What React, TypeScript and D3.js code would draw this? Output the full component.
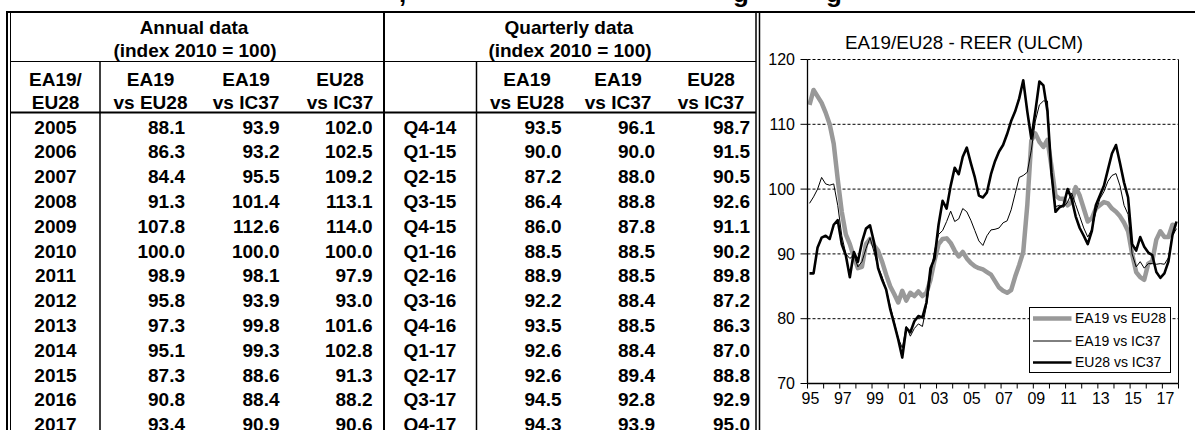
import React from "react";
import * as d3 from "d3";

// ---- table data (index 2010 = 100) ----
const annualYears = ["2005", "2006", "2007", "2008", "2009", "2010", "2011", "2012", "2013", "2014", "2015", "2016", "2017"];
const annualEa19VsEu28 = [88.1, 86.3, 84.4, 91.3, 107.8, 100.0, 98.9, 95.8, 97.3, 95.1, 87.3, 90.8, 93.4];
const annualEa19VsIc37 = [93.9, 93.2, 95.5, 101.4, 112.6, 100.0, 98.1, 93.9, 99.8, 99.3, 88.6, 88.4, 90.9];
const annualEu28VsIc37 = [102.0, 102.5, 109.2, 113.1, 114.0, 100.0, 97.9, 93.0, 101.6, 102.8, 91.3, 88.2, 90.6];

const quarterLabels = ["Q4-14", "Q1-15", "Q2-15", "Q3-15", "Q4-15", "Q1-16", "Q2-16", "Q3-16", "Q4-16", "Q1-17", "Q2-17", "Q3-17", "Q4-17"];
const quarterEa19VsEu28 = [93.5, 90.0, 87.2, 86.4, 86.0, 88.5, 88.9, 92.2, 93.5, 92.6, 92.6, 94.5, 94.3];
const quarterEa19VsIc37 = [96.1, 90.0, 88.0, 88.8, 87.8, 88.5, 88.5, 88.4, 88.5, 88.4, 89.4, 92.8, 93.9];
const quarterEu28VsIc37 = [98.7, 91.5, 90.5, 92.6, 91.1, 90.2, 89.8, 87.2, 86.3, 87.0, 88.8, 92.9, 95.0];

// ---- chart: quarterly REER 1995Q1 .. 2014Q3, then the table quarters ----
const histEa19VsEu28 = [
  113.0, 115.3, 114.3, 113.3, 111.8, 110.0, 107.0, 101.5, 96.5, 93.0,
  91.5, 89.5, 87.8, 88.0, 91.5, 92.3, 91.3, 90.5, 88.8, 86.8,
  85.0, 83.8, 82.5, 84.3, 82.8, 84.0, 83.5, 84.2, 83.5, 84.0,
  86.0, 89.0, 91.5, 92.3, 92.4, 91.7, 90.5, 89.6, 90.3, 89.3,
  88.6, 88.1, 87.8, 87.6, 87.2, 86.8, 85.8, 84.8, 84.3, 84.0,
  84.4, 86.5, 88.3, 90.3, 97.5, 107.5, 108.6, 107.3, 106.5, 107.6,
  103.5, 99.0, 98.5, 98.5, 97.5, 98.0, 100.3, 99.0, 97.0, 95.0,
  95.5, 97.0, 97.5, 98.0, 97.8, 97.0, 96.5, 95.8, 94.8,
];
const histEa19VsIc37 = [
  97.8, 98.8, 100.0, 101.8, 100.8, 100.6, 100.8, 97.5, 92.8, 90.0,
  89.3, 89.8, 88.0, 88.8, 90.8, 92.5, 90.3, 88.0, 86.5, 84.5,
  82.0, 79.5, 77.0, 75.5, 78.8, 77.3, 78.5, 79.2, 78.8, 82.0,
  86.4, 90.5, 93.0, 93.6, 95.0, 96.6, 95.0, 95.4, 97.0, 96.5,
  95.2, 93.6, 92.0, 91.3, 92.8, 93.7, 93.8, 94.0, 94.8, 95.1,
  96.8, 99.3, 101.8, 102.1, 102.6, 106.0, 110.5, 113.0, 113.6, 113.6,
  102.0, 97.3, 97.5, 97.2, 98.0, 99.4, 97.6, 95.8, 94.0, 92.6,
  93.8, 96.5, 98.5, 99.6, 101.2, 102.1, 102.4, 100.5, 97.5,
];
const histEu28VsIc37 = [
  87.0, 87.0, 91.0, 92.5, 92.8, 92.3, 94.5, 95.2, 91.5, 89.8,
  86.4, 90.3, 88.8, 91.8, 93.9, 94.4, 91.8, 87.8, 86.0, 84.5,
  81.5, 79.2, 76.8, 74.0, 78.6, 77.9, 79.6, 80.4, 80.2, 82.5,
  87.8, 89.3, 94.5, 98.2, 97.0, 100.5, 103.3, 102.3, 105.0, 106.4,
  104.0, 101.8, 99.0, 98.7, 99.5, 102.3, 104.3, 105.8, 106.8, 108.5,
  110.5, 112.0, 114.0, 116.8, 112.0, 107.8, 112.0, 116.6, 116.0, 112.0,
  102.5, 96.5, 97.2, 97.5, 100.0, 98.5, 95.8, 94.0, 92.8, 91.5,
  93.5, 97.5, 99.0, 100.5, 103.0, 105.5, 106.8, 104.0, 101.0,
];

const reerEa19VsEu28 = [...histEa19VsEu28, ...quarterEa19VsEu28];
const reerEa19VsIc37 = [...histEa19VsIc37, ...quarterEa19VsIc37];
const reerEu28VsIc37 = [...histEu28VsIc37, ...quarterEu28VsIc37];

const yearTicks = d3.range(1995, 2018);
const yearLabels = ["95", "97", "99", "01", "03", "05", "07", "09", "11", "13", "15", "17"];
const yTicks = [70, 80, 90, 100, 110, 120];
const legendNames = ["EA19 vs EU28", "EA19 vs IC37", "EU28 vs IC37"];

const FONT = "'Liberation Sans', Arial, Helvetica, sans-serif";

function Table() {
  const rowY = (k: number) => 133.5 + k * 24.8;
  const bold = { fontFamily: FONT, fontWeight: 700, fontSize: 19 };
  const annualCols = [
    { x: 185, vals: annualEa19VsEu28 },
    { x: 279.5, vals: annualEa19VsIc37 },
    { x: 372.5, vals: annualEu28VsIc37 },
  ];
  const quarterCols = [
    { x: 561.5, vals: quarterEa19VsEu28 },
    { x: 655, vals: quarterEa19VsIc37 },
    { x: 750, vals: quarterEu28VsIc37 },
  ];
  const heads = [
    { x: 55.5, a: "EA19/", b: "EU28" },
    { x: 150.5, a: "EA19", b: "vs EU28" },
    { x: 246, a: "EA19", b: "vs IC37" },
    { x: 340, a: "EU28", b: "vs IC37" },
    { x: 527, a: "EA19", b: "vs EU28" },
    { x: 618, a: "EA19", b: "vs IC37" },
    { x: 711, a: "EU28", b: "vs IC37" },
  ];
  return (
    <g>
      {/* borders */}
      <line x1={6} x2={1195} y1={12} y2={12} stroke="#000" strokeWidth={2} />
      <line x1={7} x2={7} y1={12} y2={430} stroke="#000" strokeWidth={2} />
      <line x1={10.5} x2={10.5} y1={12} y2={430} stroke="#000" strokeWidth={1} />
      <line x1={756} x2={756} y1={12} y2={430} stroke="#000" strokeWidth={1.5} />
      <line x1={759.5} x2={759.5} y1={12} y2={430} stroke="#000" strokeWidth={1.5} />
      <line x1={384} x2={384} y1={12} y2={430} stroke="#000" strokeWidth={2} />
      <line x1={10.5} x2={756} y1={61.5} y2={61.5} stroke="#000" strokeWidth={1} />
      <line x1={10.5} x2={756} y1={112.5} y2={112.5} stroke="#000" strokeWidth={2} />
      <line x1={100} x2={100} y1={61.5} y2={430} stroke="#000" strokeWidth={1.5} />
      <line x1={476.5} x2={476.5} y1={61.5} y2={430} stroke="#000" strokeWidth={1.5} />

      <text x={194} y={34} textAnchor="middle" style={bold}>Annual data</text>
      <text x={195} y={57} textAnchor="middle" style={bold}>(index 2010 = 100)</text>
      <text x={569} y={34} textAnchor="middle" style={bold}>Quarterly data</text>
      <text x={570} y={57} textAnchor="middle" style={bold}>(index 2010 = 100)</text>

      {heads.map((h, i) => (
        <g key={i}>
          <text x={h.x} y={86} textAnchor="middle" style={bold}>{h.a}</text>
          <text x={h.x} y={109} textAnchor="middle" style={bold}>{h.b}</text>
        </g>
      ))}

      {annualYears.map((yr, k) => (
        <g key={yr}>
          <text x={55.5} y={rowY(k)} textAnchor="middle" style={bold}>{yr}</text>
          {annualCols.map((c, j) => (
            <text key={j} x={c.x} y={rowY(k)} textAnchor="end" style={bold}>{c.vals[k].toFixed(1)}</text>
          ))}
        </g>
      ))}
      {quarterLabels.map((q, k) => (
        <g key={q}>
          <text x={430} y={rowY(k)} textAnchor="middle" style={bold}>{q}</text>
          {quarterCols.map((c, j) => (
            <text key={j} x={c.x} y={rowY(k)} textAnchor="end" style={bold}>{c.vals[k].toFixed(1)}</text>
          ))}
        </g>
      ))}
    </g>
  );
}

function Chart() {
  const n = reerEa19VsEu28.length;
  const x = d3.scaleLinear().domain([0, n]).range([807.5, 1178.5]);
  const y = d3.scaleLinear().domain([70, 120]).range([383.5, 59.5]);
  const line = d3.line<number>().x((_, i) => x(i + 0.5)).y((d) => y(d));
  const series = [
    { data: reerEa19VsEu28, color: "#999999", width: 4.5 },
    { data: reerEa19VsIc37, color: "#000", width: 1 },
    { data: reerEu28VsIc37, color: "#000", width: 2.6 },
  ];
  const [x0, x1] = x.range();
  const [yb, yt] = y.range();
  const lg = { x: 1029.5, y: 307.5, w: 141, h: 65 };
  const lgRows = [318.5, 341, 362.5];
  return (
    <g style={{ fontFamily: FONT }}>
      <text x={964} y={49} textAnchor="middle" fontSize={18.8}>EA19/EU28 - REER (ULCM)</text>

      {yTicks.filter((t) => t > 70).map((t) => (
        <line key={t} x1={x0} x2={x1} y1={y(t)} y2={y(t)} stroke="#000" strokeWidth={1} strokeDasharray="3,2" />
      ))}
      <line x1={x1} x2={x1} y1={yt} y2={yb} stroke="#000" strokeWidth={1} />

      {series.map((s, i) => (
        <path key={i} d={line(s.data) || ""} fill="none" stroke={s.color} strokeWidth={s.width} strokeLinejoin="round" />
      ))}

      {/* axes */}
      <line x1={x0} x2={x0} y1={yt} y2={yb} stroke="#000" strokeWidth={1.3} />
      <line x1={x0} x2={x1} y1={yb} y2={yb} stroke="#000" strokeWidth={1.3} />
      {yTicks.map((t) => (
        <g key={t}>
          <line x1={x0 - 7} x2={x0} y1={y(t)} y2={y(t)} stroke="#000" strokeWidth={1} />
          <text x={795} y={y(t)} dy="0.35em" textAnchor="end" fontSize={16}>{t}</text>
        </g>
      ))}
      {yearTicks.concat([2018]).map((yr) => (
        <line key={yr} x1={x((yr - 1995) * 4)} x2={x((yr - 1995) * 4)} y1={yb} y2={yb + 5} stroke="#000" strokeWidth={1} />
      ))}
      {yearLabels.map((lab, k) => (
        <text key={lab} x={x(k * 8 + 0.5) + 1} y={403.5} textAnchor="middle" fontSize={16}>{lab}</text>
      ))}

      {/* legend */}
      <rect x={lg.x} y={lg.y} width={lg.w} height={lg.h} fill="#fff" stroke="#000" strokeWidth={1} />
      {legendNames.map((name, i) => (
        <g key={name}>
          <line x1={1033} x2={1071.5} y1={lgRows[i]} y2={lgRows[i]} stroke={series[i].color} strokeWidth={series[i].width} />
          <text x={1075} y={lgRows[i]} dy="0.35em" fontSize={14}>{name}</text>
        </g>
      ))}
    </g>
  );
}

export default function App() {
  return (
    <div style={{ position: "absolute", left: 0, top: 0 }}>
      <svg width={1195} height={430} style={{ display: "block", background: "#fff" }}>
        {/* bottom of a page title clipped above the picture */}
        <g style={{ fontFamily: FONT, fontWeight: 700, fontSize: 26 }}>
          <text x={399} y={2}>,</text>
          <text x={733} y={2}>g</text>
          <text x={826} y={2}>g</text>
        </g>
        <Table />
        <Chart />
      </svg>
    </div>
  );
}
